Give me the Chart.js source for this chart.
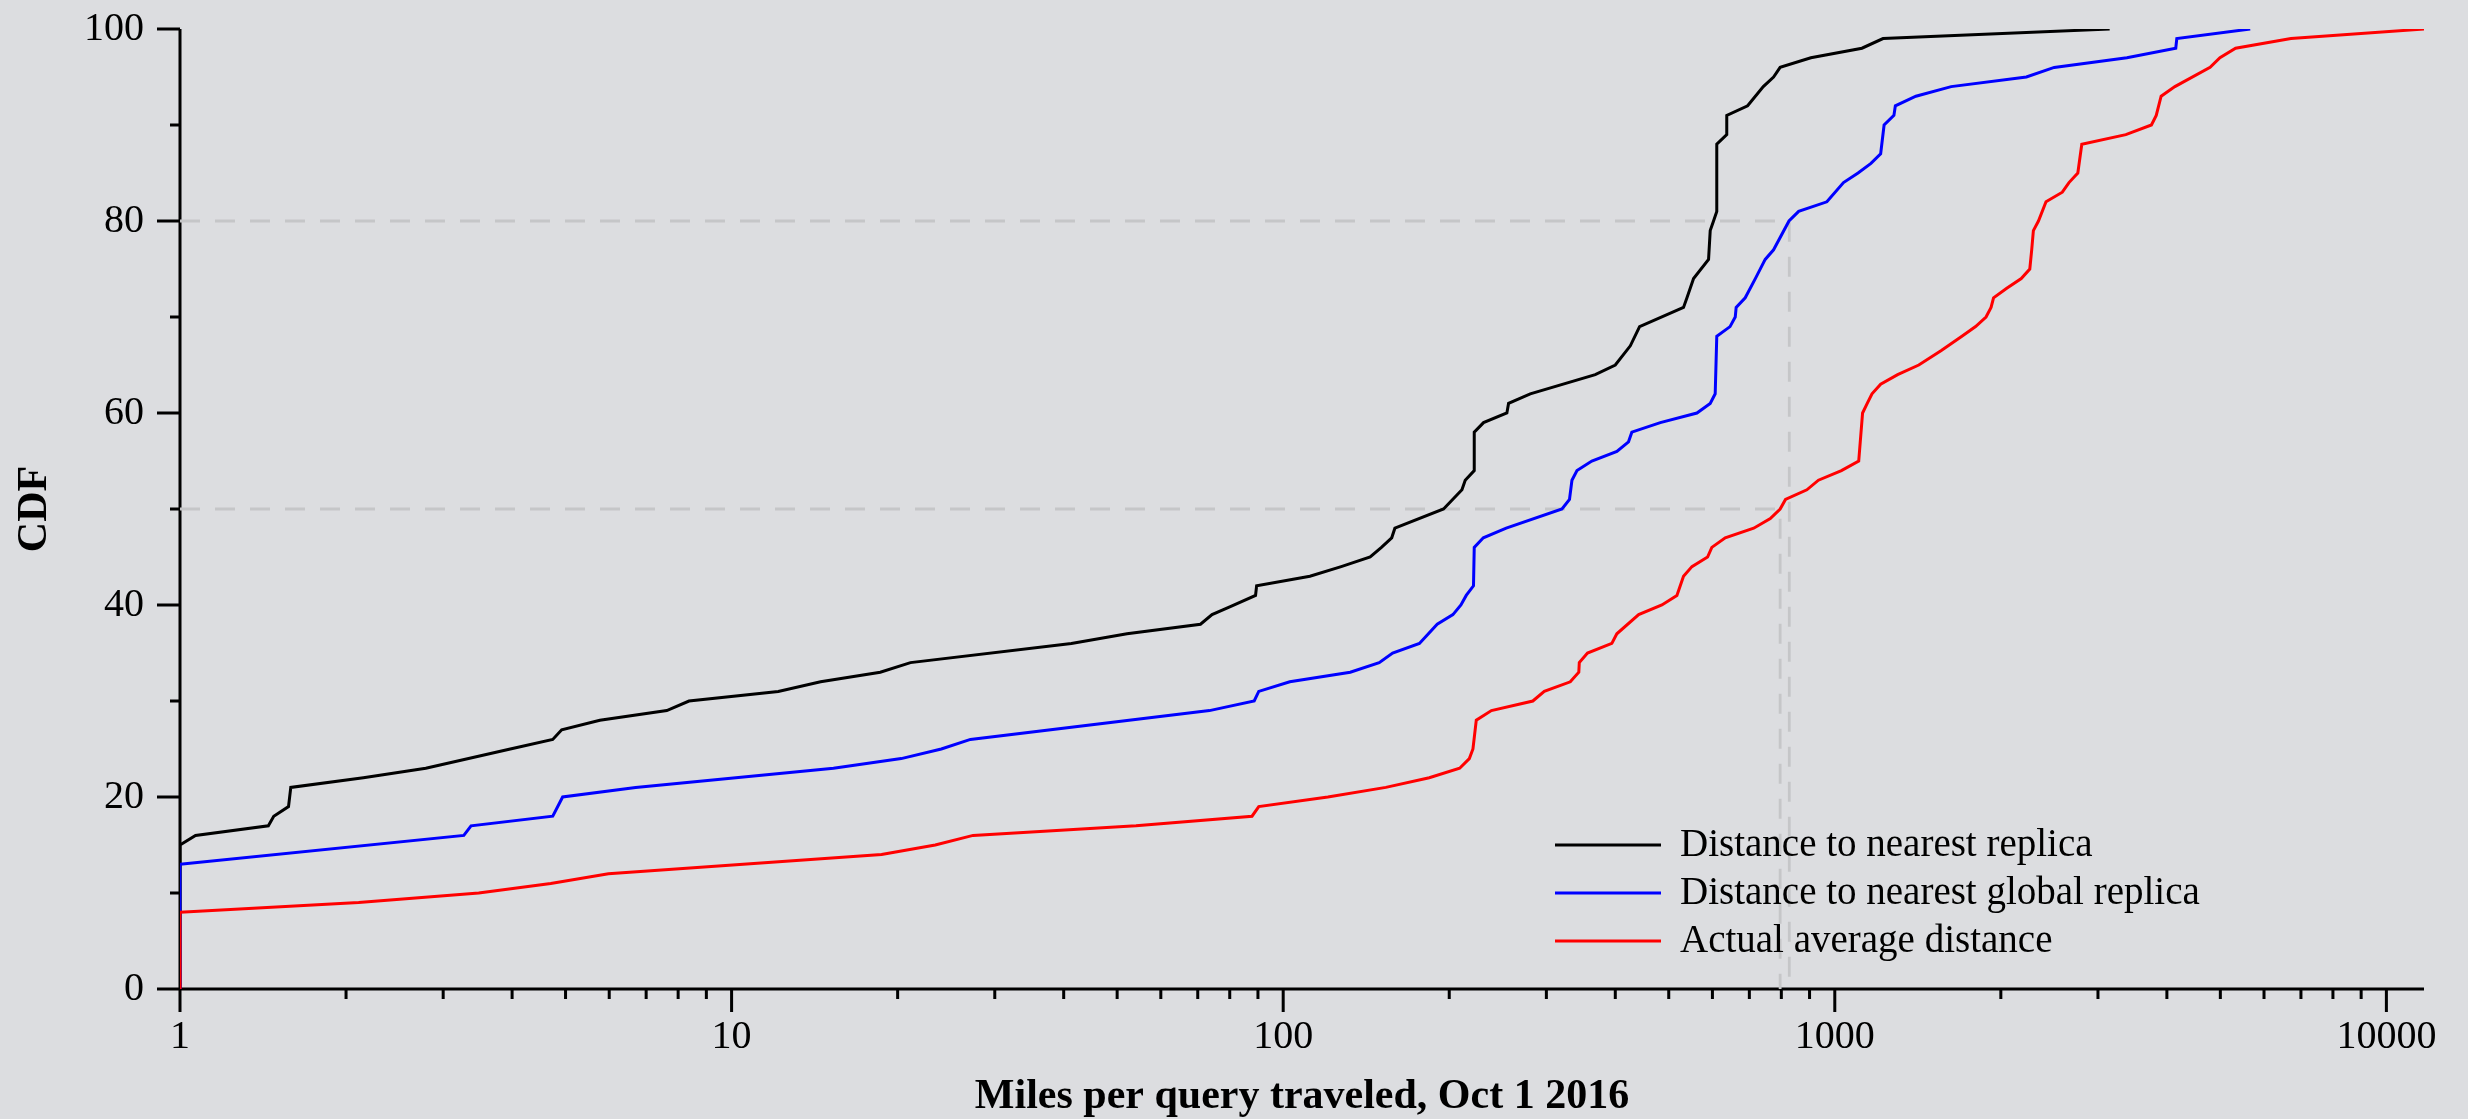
<!DOCTYPE html>
<html>
<head>
<meta charset="utf-8">
<script src="https://cdn.jsdelivr.net/npm/chart.js@4.4.0/dist/chart.umd.min.js"></script>
<style>
  html, body { margin: 0; padding: 0; background: #dcdde0; overflow: hidden; }
  canvas { display: block; }
</style>
</head>
<body>
<canvas id="cdfChart" width="2468" height="1119"></canvas>
<script>
// series: miles (log x) and CDF percent
const seriesLabels = ["Distance to nearest replica", "Distance to nearest global replica", "Actual average distance"];
const seriesColors = ["#000000", "#0000ff", "#ff0000"];

const nearestMiles = [1, 1, 1.067, 1.446, 1.479, 1.573, 1.588, 2.15, 2.79, 3.97, 4.74, 4.92, 5.77, 7.63, 8.37, 12.15, 14.5, 18.6,
  21.1, 41.3, 52.1, 70.8, 74.3, 80, 89.1, 89.5, 111.8, 127.4, 143.8, 150.7, 157.3, 159.4, 195.3, 210.9, 213.8, 222, 222,
  230.8, 254.4, 256.2, 280.5, 367.9, 400, 425.9, 442.7, 531.8, 539.5, 554.6, 590.4, 594.5, 602.8, 611, 611, 637, 637,
  695, 742, 774.5, 796, 905, 1120, 1223, 3150];
const nearestCdf = [0, 15, 16, 17, 18, 19, 21, 22, 23, 25, 26, 27, 28, 29, 30, 31, 32, 33,
  34, 36, 37, 38, 39, 39.8, 41, 42, 43, 44, 45, 46, 47, 48, 50, 52, 53, 54, 58,
  59, 60, 61, 62, 64, 65, 67, 69, 71, 72, 74, 76, 79, 80, 81, 88, 89, 91,
  92, 94, 95, 96, 97, 98, 99, 100];

const globalMiles = [1, 1, 3.27, 3.37, 4.74, 4.94, 6.7, 15.3, 20.3, 24, 27.1, 73.5, 88.6, 90.3, 102.8, 132.3, 149.3, 157.9,
  176.6, 190.2, 203.1, 210, 214.7, 221.3, 222, 230.6, 253.7, 320.2, 330.4, 333.8, 340.9, 362.7, 402.7, 422.7, 428.6,
  482.7, 562.4, 594.5, 607, 611, 645.8, 660, 662.5, 688, 717.7, 747.9, 774.5, 826, 860, 967.5, 1037, 1102, 1163, 1211,
  1228.5, 1280, 1287.6, 1403, 1625.5, 2225, 2499, 3385, 4151, 4169, 5664];
const globalCdf = [0, 13, 16, 17, 18, 20, 21, 23, 24, 25, 26, 29, 30, 31, 32, 33, 34, 35,
  36, 38, 39, 40, 41, 42, 46, 47, 48, 50, 51, 53, 54, 55, 56, 57, 58,
  59, 60, 61, 62, 68, 69, 70, 71, 72, 74, 76, 77, 80, 81, 82, 84, 85, 86, 87,
  90, 91, 92, 93, 94, 95, 96, 97, 98, 99, 100];

const actualMiles = [1, 1, 2.108, 3.48, 4.7, 5.98, 18.7, 23.4, 27.4, 54.1, 87.8, 90.3, 120.5, 153.5, 184, 208.9, 217.5,
  220.8, 223.9, 238.5, 283.5, 297.4, 331.5, 343.5, 344.2, 356.2, 394.3, 402.6, 441, 485.9, 517.3, 531.8, 550.8, 588,
  598.5, 633, 712.8, 764, 796, 814, 890, 934, 1028, 1105, 1123, 1145, 1168, 1211, 1300, 1420, 1560, 1700, 1800, 1880,
  1920, 1940, 2050, 2178, 2257, 2275, 2291, 2340, 2415, 2585, 2658, 2758, 2804, 3370, 3750, 3826, 3905, 4136, 4791,
  4992, 5329, 6715, 11700];
const actualCdf = [0, 8, 9, 10, 11, 12, 14, 15, 16, 17, 18, 19, 20, 21, 22, 23, 24,
  25, 28, 29, 30, 31, 32, 33, 34, 35, 36, 37, 39, 40, 41, 43, 44, 45,
  46, 47, 48, 49, 50, 51, 52, 53, 54, 55, 60, 61, 62, 63, 64, 65, 66.5, 68, 69, 70,
  71, 72, 73, 74, 75, 77, 79, 80, 82, 83, 84, 85, 88, 89, 90, 91, 93, 94, 96,
  97, 98, 99, 100];

// dashed guides: median of actual distance, 80th pct of global replica
const guideMiles = [827, 796];
const guideCdf = [80, 50];

const xTickValues = [1, 10, 100, 1000, 10000];
const xMin = 1;
const xMax = 11700;
const yMin = 0;
const yMax = 100;

function toPoints(xs, ys) {
    return xs.map((v, i) => ({ x: v, y: ys[i] }));
}

const curveSets = [
    [nearestMiles, nearestCdf],
    [globalMiles, globalCdf],
    [actualMiles, actualCdf]
].map((s, i) => ({
    label: seriesLabels[i],
    data: toPoints(s[0], s[1]),
    borderColor: seriesColors[i],
    borderWidth: 3,
    pointRadius: 0,
    tension: 0,
    fill: false,
    order: 2 - i
}));

const guideSets = guideMiles.map((m, i) => ({
    label: 'guide' + i,
    data: [{ x: xMin, y: guideCdf[i] }, { x: m, y: guideCdf[i] }, { x: m, y: yMin }],
    borderColor: '#c5c6c8',
    borderWidth: 2.8,
    borderDash: [20, 15],
    pointRadius: 0,
    tension: 0,
    fill: false,
    order: 5
}));

// axis lines with long major / short minor ticks, under the curves
const axesPlugin = {
    id: 'axesPlugin',
    beforeDatasetsDraw(chart) {
        const { ctx, chartArea: a, scales: { x, y } } = chart;
        ctx.save();
        ctx.strokeStyle = '#000';
        ctx.lineWidth = 3;
        ctx.beginPath();
        ctx.moveTo(a.left, a.top);
        ctx.lineTo(a.left, a.bottom);
        ctx.lineTo(a.right, a.bottom);
        for (let v = yMin; v <= yMax; v += 10) {
            const py = y.getPixelForValue(v);
            const len = v % 20 === 0 ? 23 : 10;
            ctx.moveTo(a.left - len, py);
            ctx.lineTo(a.left, py);
        }
        for (let d = 1; d <= xMax; d *= 10) {
            for (let k = 1; k < 10; k++) {
                const v = k * d;
                if (v > xMax) break;
                const px = x.getPixelForValue(v);
                const len = k === 1 ? 23 : 10;
                ctx.moveTo(px, a.bottom);
                ctx.lineTo(px, a.bottom + len);
            }
        }
        ctx.stroke();
        ctx.restore();
    }
};

// legend inside the plot, lower right
const legendPlugin = {
    id: 'legendPlugin',
    afterDatasetsDraw(chart) {
        const { ctx, chartArea: a } = chart;
        const x0 = a.right - 869;
        const y0 = a.bottom - 144;
        ctx.save();
        ctx.font = '39px "Liberation Serif"';
        ctx.textBaseline = 'middle';
        ctx.textAlign = 'left';
        curveSets.forEach((ds, i) => {
            const py = y0 + i * 48;
            ctx.strokeStyle = ds.borderColor;
            ctx.lineWidth = 3;
            ctx.beginPath();
            ctx.moveTo(x0, py);
            ctx.lineTo(x0 + 106, py);
            ctx.stroke();
            ctx.fillStyle = '#000';
            ctx.fillText(ds.label, x0 + 125, py + 1);
        });
        ctx.restore();
    }
};

const ctx = document.getElementById('cdfChart').getContext('2d');
const chart = new Chart(ctx, {
    type: 'line',
    data: { datasets: [...curveSets, ...guideSets] },
    options: {
        responsive: false,
        animation: false,
        events: [],
        layout: { padding: { top: 29, right: 44, left: 0, bottom: 0 } },
        plugins: {
            legend: { display: false },
            tooltip: { enabled: false }
        },
        scales: {
            x: {
                type: 'logarithmic',
                min: xMin,
                max: xMax,
                afterBuildTicks: s => { s.ticks = xTickValues.map(v => ({ value: v })); },
                afterFit: s => { s.height = 130; },
                grid: { display: true, drawOnChartArea: false, drawTicks: true, tickLength: 24,
                        color: 'rgba(0,0,0,0)', tickColor: 'rgba(0,0,0,0)' },
                border: { display: false },
                ticks: {
                    padding: 0,
                    maxRotation: 0,
                    autoSkip: false,
                    color: '#000',
                    font: { family: 'Liberation Serif', size: 40 },
                    callback: v => String(v)
                },
                title: {
                    display: true,
                    text: 'Miles per query traveled, Oct 1 2016',
                    color: '#000',
                    font: { family: 'Liberation Serif', size: 42, weight: 'bold', lineHeight: 1 },
                    padding: { top: 0, bottom: 1 }
                }
            },
            y: {
                min: yMin,
                max: yMax,
                afterFit: s => { s.width = 180; },
                grid: { display: true, drawOnChartArea: false, drawTicks: true, tickLength: 36,
                        color: 'rgba(0,0,0,0)', tickColor: 'rgba(0,0,0,0)' },
                border: { display: false },
                ticks: {
                    stepSize: 20,
                    padding: 0,
                    color: '#000',
                    font: { family: 'Liberation Serif', size: 40 }
                },
                title: {
                    display: true,
                    text: 'CDF',
                    color: '#000',
                    font: { family: 'Liberation Serif', size: 42, weight: 'bold', lineHeight: 1 },
                    padding: { top: 14, bottom: 0 }
                }
            }
        }
    },
    plugins: [axesPlugin, legendPlugin]
});
</script>
</body>
</html>
